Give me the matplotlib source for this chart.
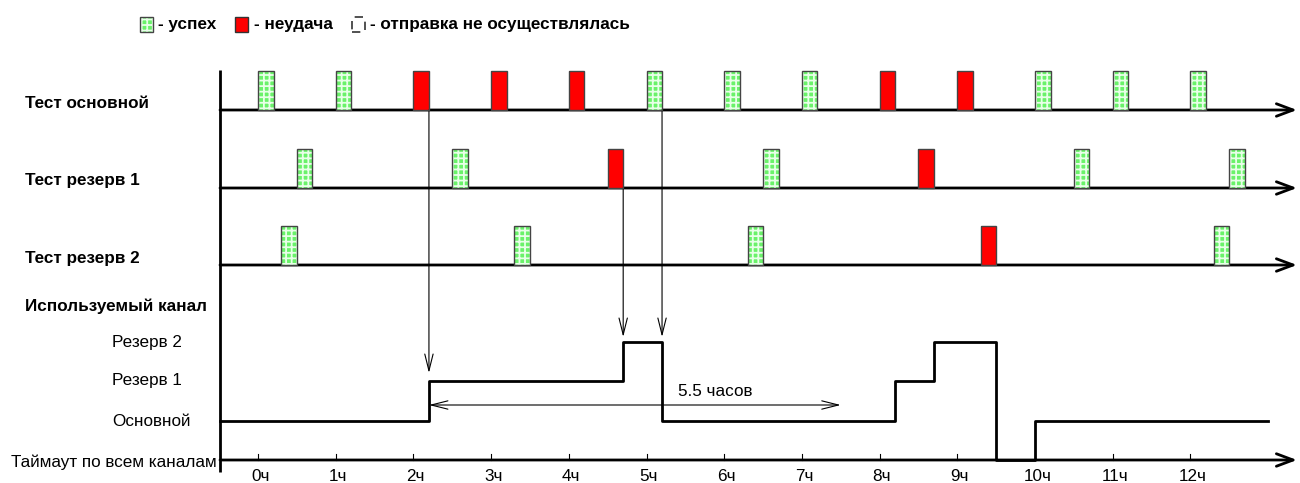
import matplotlib
matplotlib.use("Agg")
import matplotlib.pyplot as plt
from matplotlib.patches import Rectangle
from matplotlib.transforms import blended_transform_factory

plt.rcParams['font.family'] = ['Liberation Sans', 'DejaVu Sans']
plt.rcParams['hatch.linewidth'] = 1.3

# ---------------- data ----------------
hours = list(range(13))
hour_labels = [f"{h}ч" for h in hours]

main_times = [0, 1, 2, 3, 4, 5, 6, 7, 8, 9, 10, 11, 12]
main_ok = [1, 1, 0, 0, 0, 1, 1, 1, 0, 0, 1, 1, 1]

res1_times = [0.5, 2.5, 4.5, 6.5, 8.5, 10.5, 12.5]
res1_ok = [1, 1, 0, 1, 0, 1, 1]

res2_times = [0.3, 3.3, 6.3, 9.3, 12.3]
res2_ok = [1, 1, 1, 0, 1]

test_width = 0.2  # hours

# used channel: 0 = timeout, 1 = main, 2 = reserve 1, 3 = reserve 2
chan_times = [-0.49, 2.2, 4.7, 5.2, 8.2, 8.7, 9.5, 10.0, 13.0]
chan_levels = [1, 2, 3, 1, 2, 3, 0, 1, 1]

chan_names = ["Таймаут по всем каналам", "Основной", "Резерв 1", "Резерв 2"]
row_names = ["Тест основной", "Тест резерв 1", "Тест резерв 2"]

duration_from, duration_to = 2.2, 7.5
duration_label = "5.5 часов"

# ---------------- layout ----------------
W, H = 1300, 483
fig = plt.figure(figsize=(W / 100, H / 100), dpi=100)
ax = fig.add_axes([0, 0, 1, 1])
x0_px, hour_px = 258.0, 77.7
ax.set_xlim((0 - x0_px) / hour_px, (W - x0_px) / hour_px)
ax.set_ylim(H, 0)
ax.axis('off')

axis_x = (220 - x0_px) / hour_px
arrow_end = (1297 - x0_px) / hour_px
row_base = [110, 188, 265]
bar_h = 39
chan_y = {0: 460, 1: 421, 2: 381, 3: 342}

GREEN = '#6af26a'
RED = '#ff0000'
lw_axis = 2.0
FS = 12.3


def h_arrow(y):
    ax.annotate('', xy=(arrow_end, y), xytext=(axis_x, y),
                arrowprops=dict(arrowstyle='->,head_length=1.2,head_width=0.45',
                                lw=lw_axis, color='black', shrinkA=0, shrinkB=0))


def draw_bars(times, oks, base):
    for t, ok in zip(times, oks):
        if ok:
            ax.bar(t, -bar_h, width=test_width, bottom=base, align='edge',
                   color=GREEN, hatch='+++', edgecolor='#e8ffe8', linewidth=0, zorder=3)
        else:
            ax.bar(t, -bar_h, width=test_width, bottom=base, align='edge',
                   color=RED, linewidth=0, zorder=3)
        ax.bar(t, -bar_h, width=test_width, bottom=base, align='edge',
               fill=False, edgecolor='#444444', linewidth=1.0, zorder=4)


# vertical axis
ax.plot([axis_x, axis_x], [70, 472], color='black', lw=lw_axis, solid_capstyle='butt', zorder=5)

for base in row_base:
    h_arrow(base)
h_arrow(chan_y[0])

draw_bars(main_times, main_ok, row_base[0])
draw_bars(res1_times, res1_ok, row_base[1])
draw_bars(res2_times, res2_ok, row_base[2])

# hour ticks
for h, lab in zip(hours, hour_labels):
    ax.plot([h, h], [chan_y[0], chan_y[0] - 6], color='black', lw=0.8)
    ax.text(h + 0.03, 469, lab, ha='center', va='top', fontsize=FS)

# channel step line
ax.step(chan_times, [chan_y[l] for l in chan_levels], where='post',
        color='black', lw=2.0, zorder=6)


def v_arrow(x, y_from, y_to):
    ax.annotate('', xy=(x, y_to), xytext=(x, y_from),
                arrowprops=dict(arrowstyle='->,head_length=1.2,head_width=0.3',
                                lw=0.8, color='black', shrinkA=0, shrinkB=0))


v_arrow(2.2, row_base[0], chan_y[2] - 8)
v_arrow(4.7, row_base[1], chan_y[3] - 5)
v_arrow(5.2, row_base[0], chan_y[3] - 5)

# duration
ax.annotate('', xy=(duration_from, 405), xytext=(duration_to, 405),
            arrowprops=dict(arrowstyle='<->,head_length=1.2,head_width=0.3',
                            lw=0.8, color='black', shrinkA=0, shrinkB=0))
ax.text(5.88, 391, duration_label, ha='center', va='center', fontsize=FS)

# left labels
px = blended_transform_factory(fig.transFigure, ax.transData)
for name, base in zip(row_names, row_base):
    ax.text(25 / W, base - 7, name, ha='left', va='center', fontsize=FS,
            fontweight='bold', transform=px)
ax.text(25 / W, 306, 'Используемый канал', ha='left', va='center', fontsize=FS,
        fontweight='bold', transform=px)
for lvl in (3, 2, 1):
    ax.text(112 / W, chan_y[lvl], chan_names[lvl], ha='left', va='center',
            fontsize=FS, transform=px)
ax.text(217 / W, chan_y[0] + 2, chan_names[0], ha='right', va='center',
        fontsize=FS, transform=px)


# legend
def fig_rect(x, y, w, h, **kw):
    r = Rectangle((x / W, 1 - (y + h) / H), w / W, h / H, transform=fig.transFigure, **kw)
    fig.add_artist(r)


fig_rect(140, 17, 13, 15, facecolor=GREEN, hatch='+++', edgecolor='#e8ffe8', linewidth=0)
fig_rect(140, 17, 13, 15, fill=False, edgecolor='#444444', linewidth=1.0)
fig.text(158 / W, 1 - 25 / H, '- успех', ha='left', va='center', fontsize=FS, fontweight='bold')
fig_rect(235, 17, 13, 15, facecolor=RED, edgecolor='#333333', linewidth=1.0)
fig.text(254 / W, 1 - 25 / H, '- неудача', ha='left', va='center', fontsize=FS, fontweight='bold')
fig_rect(352, 17, 13, 15, fill=False, edgecolor='#333333', linewidth=1.2, linestyle=(0, (5, 4)))
fig.text(370 / W, 1 - 25 / H, '- отправка не осуществлялась', ha='left', va='center',
         fontsize=FS, fontweight='bold')

fig.savefig('out.png', dpi=100)
